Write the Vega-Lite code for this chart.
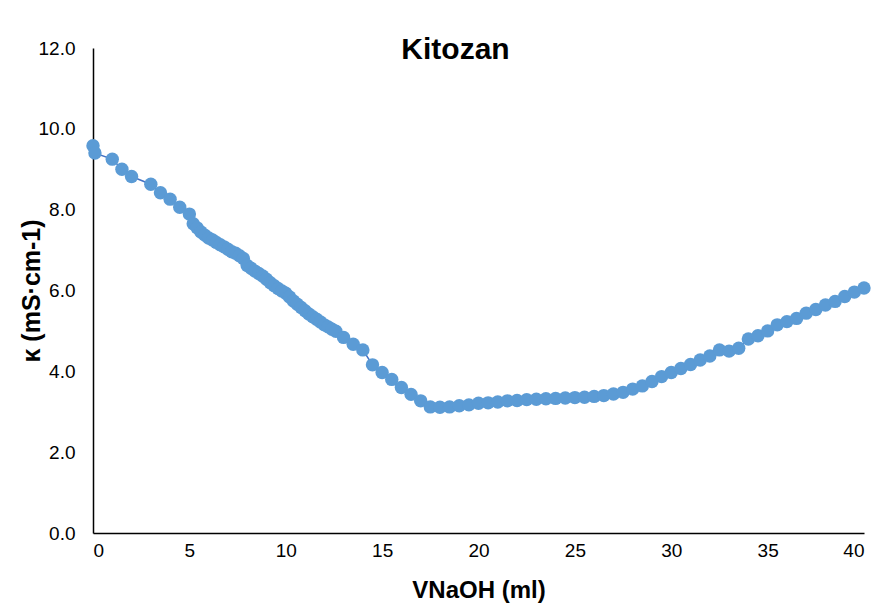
{
  "$schema": "https://vega.github.io/schema/vega-lite/v6.json",
  "width": 771,
  "height": 485,
  "autosize": "none",
  "padding": {"left": 93, "top": 48, "right": 29, "bottom": 77},
  "background": "white",
  "title": {
    "text": "Kitozan",
    "font": "Liberation Sans",
    "fontSize": 30,
    "fontWeight": "bold",
    "color": "#000000",
    "anchor": "middle",
    "baseline": "alphabetic",
    "offset": -50,
    "dx": -23
  },
  "config": {
    "view": {"stroke": null},
    "font": "Liberation Sans"
  },
  "data": {
    "values": [
      {"v": 0.0, "k": 9.58}, {"v": 0.1, "k": 9.40}, {"v": 1.0, "k": 9.25}, {"v": 1.5, "k": 9.00},
      {"v": 2.0, "k": 8.82}, {"v": 3.0, "k": 8.63}, {"v": 3.5, "k": 8.42}, {"v": 4.0, "k": 8.26},
      {"v": 4.5, "k": 8.06}, {"v": 5.0, "k": 7.89}, {"v": 5.2, "k": 7.65}, {"v": 5.4, "k": 7.55},
      {"v": 5.6, "k": 7.45}, {"v": 5.8, "k": 7.37}, {"v": 6.0, "k": 7.30}, {"v": 6.2, "k": 7.25},
      {"v": 6.4, "k": 7.19}, {"v": 6.6, "k": 7.13}, {"v": 6.8, "k": 7.08}, {"v": 7.0, "k": 7.02},
      {"v": 7.2, "k": 6.96}, {"v": 7.4, "k": 6.92}, {"v": 7.6, "k": 6.86}, {"v": 7.8, "k": 6.79},
      {"v": 8.0, "k": 6.62}, {"v": 8.2, "k": 6.55}, {"v": 8.4, "k": 6.48}, {"v": 8.6, "k": 6.42},
      {"v": 8.8, "k": 6.36}, {"v": 9.0, "k": 6.28}, {"v": 9.2, "k": 6.19}, {"v": 9.4, "k": 6.12},
      {"v": 9.6, "k": 6.05}, {"v": 9.8, "k": 5.99}, {"v": 10.0, "k": 5.93}, {"v": 10.2, "k": 5.84},
      {"v": 10.4, "k": 5.74}, {"v": 10.6, "k": 5.66}, {"v": 10.8, "k": 5.58}, {"v": 11.0, "k": 5.50},
      {"v": 11.2, "k": 5.42}, {"v": 11.4, "k": 5.35}, {"v": 11.6, "k": 5.29}, {"v": 11.8, "k": 5.22},
      {"v": 12.0, "k": 5.15}, {"v": 12.2, "k": 5.10}, {"v": 12.4, "k": 5.04}, {"v": 12.6, "k": 4.99},
      {"v": 13.0, "k": 4.84}, {"v": 13.5, "k": 4.67}, {"v": 14.0, "k": 4.53}, {"v": 14.5, "k": 4.16},
      {"v": 15.0, "k": 3.97}, {"v": 15.5, "k": 3.80}, {"v": 16.0, "k": 3.60}, {"v": 16.5, "k": 3.43},
      {"v": 17.0, "k": 3.27}, {"v": 17.5, "k": 3.12}, {"v": 18.0, "k": 3.11}, {"v": 18.5, "k": 3.12},
      {"v": 19.0, "k": 3.15}, {"v": 19.5, "k": 3.17}, {"v": 20.0, "k": 3.21}, {"v": 20.5, "k": 3.22},
      {"v": 21.0, "k": 3.24}, {"v": 21.5, "k": 3.27}, {"v": 22.0, "k": 3.28}, {"v": 22.5, "k": 3.30},
      {"v": 23.0, "k": 3.31}, {"v": 23.5, "k": 3.32}, {"v": 24.0, "k": 3.33}, {"v": 24.5, "k": 3.34},
      {"v": 25.0, "k": 3.35}, {"v": 25.5, "k": 3.36}, {"v": 26.0, "k": 3.38}, {"v": 26.5, "k": 3.40},
      {"v": 27.0, "k": 3.44}, {"v": 27.5, "k": 3.48}, {"v": 28.0, "k": 3.56}, {"v": 28.5, "k": 3.64},
      {"v": 29.0, "k": 3.75}, {"v": 29.5, "k": 3.87}, {"v": 30.0, "k": 3.97}, {"v": 30.5, "k": 4.07},
      {"v": 31.0, "k": 4.17}, {"v": 31.5, "k": 4.28}, {"v": 32.0, "k": 4.38}, {"v": 32.5, "k": 4.53},
      {"v": 33.0, "k": 4.50}, {"v": 33.5, "k": 4.57}, {"v": 34.0, "k": 4.80}, {"v": 34.5, "k": 4.88},
      {"v": 35.0, "k": 5.00}, {"v": 35.5, "k": 5.15}, {"v": 36.0, "k": 5.23}, {"v": 36.5, "k": 5.31},
      {"v": 37.0, "k": 5.44}, {"v": 37.5, "k": 5.53}, {"v": 38.0, "k": 5.64}, {"v": 38.5, "k": 5.73},
      {"v": 39.0, "k": 5.85}, {"v": 39.5, "k": 5.96}, {"v": 40.0, "k": 6.06}
    ]
  },
  "encoding": {
    "x": {
      "field": "v",
      "type": "quantitative",
      "scale": {"domain": [0, 40], "nice": false, "zero": false},
      "axis": {
        "title": "VNaOH (ml)",
        "titleFont": "Liberation Sans",
        "titleFontSize": 24,
        "titleFontWeight": "bold",
        "titleColor": "#000000",
        "titlePadding": 18,
        "values": [0, 5, 10, 15, 20, 25, 30, 35, 40],
        "labelFont": "Liberation Sans",
        "labelFontSize": 19,
        "labelColor": "#000000",
        "labelPadding": 8,
        "ticks": false,
        "grid": false,
        "domainColor": "#000000",
        "domainWidth": 1.5
      }
    },
    "y": {
      "field": "k",
      "type": "quantitative",
      "scale": {"domain": [0, 12], "nice": false},
      "axis": {
        "title": "κ (mS·cm-1)",
        "titleFont": "Liberation Sans",
        "titleFontSize": 25,
        "titleFontWeight": "bold",
        "titleColor": "#000000",
        "titlePadding": -6,
        "values": [0, 2, 4, 6, 8, 10, 12],
        "format": ".1f",
        "labelFont": "Liberation Sans",
        "labelFontSize": 19,
        "labelColor": "#000000",
        "labelPadding": 18,
        "ticks": false,
        "grid": false,
        "domainColor": "#000000",
        "domainWidth": 1.5
      }
    }
  },
  "layer": [
    {
      "mark": {"type": "line", "color": "#4472C4", "strokeWidth": 1.5}
    },
    {
      "mark": {"type": "point", "shape": "circle", "filled": true, "color": "#5B9BD5", "opacity": 1, "size": 180}
    }
  ]
}
